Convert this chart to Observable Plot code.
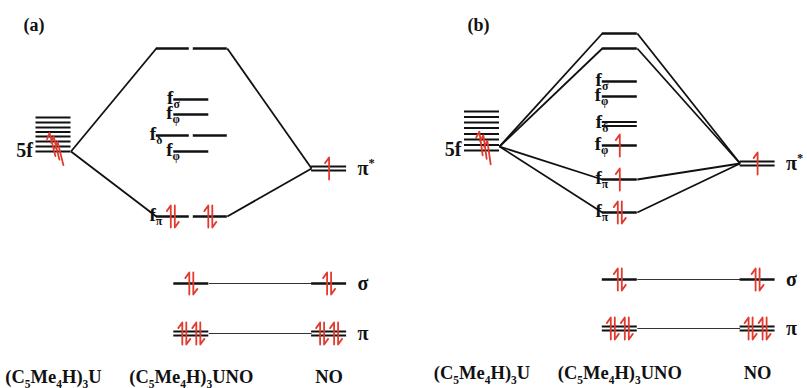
<!DOCTYPE html>
<html>
<head>
<meta charset="utf-8">
<script src="https://cdn.jsdelivr.net/npm/d3@7"></script>
<script src="https://cdn.jsdelivr.net/npm/@observablehq/plot@0.6"></script>
<style>
  html, body { margin: 0; padding: 0; background: #fff; }
  #chart svg { display: block; }
</style>
</head>
<body>
<div id="chart"></div>
<script>
// ---------------- DATA ----------------
const panels = ["(a)", "(b)"];
const columns = ["(C_5Me_4H)_3U", "(C_5Me_4H)_3UNO", "NO"];

// 5f manifold of (C5Me4H)3U (arbitrary energy units, higher = less stable)
const f5A = [22.3, 21.8, 21.3, 20.85, 20.4, 19.9, 19.4, 18.9];
const f5B = [22.9, 22.35, 21.8, 21.25, 20.65, 20.1, 19.55, 19.0];
const f5AnchorA = 18.9;   // energy where correlation lines leave the 5f manifold
const f5AnchorB = 19.4;
const f5Electrons = ["u", "u", "u"];

// (C5Me4H)3UNO levels: [label, energy, shape, electrons]
const unoA = [
  ["",    29.2, "pair",   ""],
  ["f_σ", 24.1, "single", ""],
  ["f_φ", 22.6, "single", ""],
  ["f_δ", 20.5, "pair",   ""],
  ["f_φ", 18.9, "single", ""],
  ["f_π", 12.4, "pair",   "ud|ud"],
  ["",     5.7, "single", "ud"],
  ["",     0.7, "double", "udud"]
];
const unoB = [
  ["",    30.7, "single", ""],
  ["",    29.2, "single", ""],
  ["f_σ", 25.9, "single", ""],
  ["f_φ", 24.4, "single", ""],
  ["f_δ", 21.65, "double", ""],
  ["f_φ", 19.5, "single", "u"],
  ["f_π", 16.1, "single", "u"],
  ["f_π", 12.8, "single", "ud"],
  ["",     6.1, "single", "ud"],
  ["",     1.2, "double", "udud"]
];

// NO levels: [label, energy, shape, electrons]
const noA = [
  ["π^*", 17.2, "double", "u"],
  ["σ",    5.7, "single", "ud"],
  ["π",    0.7, "double", "udud"]
];
const noB = [
  ["π^*", 17.7, "double", "u"],
  ["σ",    6.1, "single", "ud"],
  ["π",    1.2, "double", "udud"]
];

// correlation lines: [fromColumn, fromIndex, toColumn, toIndex, style]
const linksA = [
  ["U", 0, "UNO", 0, "main"], ["U", 0, "UNO", 5, "main"],
  ["UNO", 0, "NO", 0, "main"], ["UNO", 5, "NO", 0, "main"],
  ["UNO", 6, "NO", 1, "thin"], ["UNO", 7, "NO", 2, "thin"]
];
const linksB = [
  ["U", 0, "UNO", 0, "main"], ["U", 0, "UNO", 1, "main"],
  ["U", 0, "UNO", 6, "main"], ["U", 0, "UNO", 7, "main"],
  ["UNO", 0, "NO", 0, "main"], ["UNO", 1, "NO", 0, "main"],
  ["UNO", 6, "NO", 0, "main"], ["UNO", 7, "NO", 0, "main"],
  ["UNO", 8, "NO", 1, "thin"], ["UNO", 9, "NO", 2, "thin"]
];

// ---------------- LAYOUT ----------------
const PX = 137.8;            // pixels per column unit
const EPX = 10;              // pixels per energy unit
const u = p => p / PX;
const ev = p => p / EPX;
const panelOffset = [0, 3.1096];
const HALF = u(17.5);
const colLabelE = [-3.7, -3.3];
const panelLabelDx = [-30, -14.5];
const red = "#e23b2e";
const ink = "#111";

const stackSegs = [], levelSegs = [], doubleSegs = [];
const mainLinks = [], thinLinks = [];
const electrons = [], f5Elec = [];
const fLabels = [], rightLabels = [], f5Labels = [], colLabels = [], panelLabels = [];

function buildLevel(rec, c) {
  const [label, E, shape, el] = rec;
  let segs;
  if (shape === "pair") segs = [[c - u(35), c - u(2), 0], [c + u(2), c + u(36), 0]];
  else if (shape === "double") segs = [[c - HALF, c + HALF, ev(2.1)], [c - HALF, c + HALF, -ev(2.1)]];
  else segs = [[c - HALF, c + HALF, 0]];
  segs.forEach(([x1, x2, dE]) => (shape === "double" ? doubleSegs : levelSegs).push({x1, x2, E: E + dE}));
  const parts = shape === "pair" ? el.split("|") : [el];
  const centers = shape === "pair" ? segs.map(s => (s[0] + s[1]) / 2) : [c];
  parts.forEach((p, k) => {
    const xc = centers[k];
    if (p === "u") electrons.push({x: xc, y: E, rot: 0});
    else if (p === "ud") {
      electrons.push({x: xc - u(2), y: E, rot: 0});
      electrons.push({x: xc + u(2), y: E, rot: 180});
    } else if (p === "udud") {
      [-7, 7].forEach(o => {
        electrons.push({x: xc + u(o - 2), y: E, rot: 0});
        electrons.push({x: xc + u(o + 2), y: E, rot: 180});
      });
    }
  });
  return {label, E, left: Math.min(...segs.map(s => s[0])), right: Math.max(...segs.map(s => s[1]))};
}

panels.forEach((p, pi) => {
  const off = panelOffset[pi];
  const cx = [off, off + 1, off + 2];
  const f5 = pi ? f5B : f5A;
  const anchor = pi ? f5AnchorB : f5AnchorA;
  f5.forEach(E => stackSegs.push({x1: cx[0] - HALF, x2: cx[0] + HALF, E}));
  const low = Math.min(...f5);
  const stagX = [-1, 3, 7], stagY = [-7, -3.5, 2];
  f5Electrons.forEach((e, k) => f5Elec.push({x: cx[0] + u(stagX[k]), y: low - ev(stagY[k]), rot: pi ? -8 : -14}));
  f5Labels.push({x: cx[0] - HALF - u(3), y: low, text: "5f"});

  const uno = (pi ? unoB : unoA).map(r => buildLevel(r, cx[1]));
  const no = (pi ? noB : noA).map(r => buildLevel(r, cx[2]));
  uno.forEach(l => { if (l.label) fLabels.push({x: l.left + u(6), y: l.E, text: l.label}); });
  no.forEach(l => { if (l.label) rightLabels.push({x: l.right + u(11), y: l.E, text: l.label}); });

  (pi ? linksB : linksA).forEach(([fc, fi, tc, ti, style]) => {
    const from = fc === "U" ? {right: cx[0] + HALF, E: anchor} : uno[fi];
    const to = tc === "UNO" ? uno[ti] : no[ti];
    (style === "thin" ? thinLinks : mainLinks).push({x1: from.right, y1: from.E, x2: to.left, y2: to.E});
  });

  columns.forEach((c, k) => colLabels.push({x: cx[k], y: colLabelE[pi], text: c}));
  panelLabels.push({x: cx[0] + u(panelLabelDx[pi]), y: 31.5, text: p});
});

const harpoon = {
  draw(ctx, l, r) {
    ctx.moveTo(0, 0);
    ctx.lineTo(0, -l);
    ctx.lineTo(-r * 1.15, -l + r * 1.6);
  }
};

const font = "'Liberation Serif', 'Times New Roman', 'DejaVu Serif', serif";

const plot = Plot.plot({
  width: 807,
  height: 388,
  margin: 0,
  style: {background: "#fff"},
  x: {type: "linear", domain: [-53 / PX, 754 / PX], range: [0, 807], axis: null},
  y: {type: "linear", domain: [-4.5, 34], range: [385, 0], axis: null},
  marks: [
    Plot.link(thinLinks, {x1: "x1", y1: "y1", x2: "x2", y2: "y2", stroke: "#333", strokeWidth: 1.2}),
    Plot.link(mainLinks, {x1: "x1", y1: "y1", x2: "x2", y2: "y2", stroke: ink, strokeWidth: 1.8}),
    Plot.ruleY(stackSegs, {y: "E", x1: "x1", x2: "x2", stroke: ink, strokeWidth: 2.2}),
    Plot.ruleY(levelSegs, {y: "E", x1: "x1", x2: "x2", stroke: ink, strokeWidth: 2.6}),
    Plot.ruleY(doubleSegs, {y: "E", x1: "x1", x2: "x2", stroke: ink, strokeWidth: 2}),
    Plot.vector(electrons, {x: "x", y: "y", rotate: "rot", length: 22, anchor: "middle", shape: harpoon, stroke: red, strokeWidth: 1.8}),
    Plot.vector(f5Elec, {x: "x", y: "y", rotate: "rot", length: 24, anchor: "middle", shape: harpoon, stroke: red, strokeWidth: 1.8}),
    Plot.text(fLabels, {x: "x", y: "y", text: "text", textAnchor: "end", lineAnchor: "middle", dy: -2, fontSize: 19, fontWeight: "bold", fontFamily: font, fill: ink}),
    Plot.text(rightLabels, {x: "x", y: "y", text: "text", textAnchor: "start", lineAnchor: "middle", fontSize: 20, fontWeight: "bold", fontFamily: font, fill: ink}),
    Plot.text(f5Labels, {x: "x", y: "y", text: "text", textAnchor: "end", lineAnchor: "bottom", dy: 5, fontSize: 20, fontWeight: "bold", fontFamily: font, fill: ink}),
    Plot.text(colLabels, {x: "x", y: "y", text: "text", textAnchor: "middle", lineAnchor: "middle", fontSize: 18.5, fontWeight: "bold", fontFamily: font, fill: ink}),
    Plot.text(panelLabels, {x: "x", y: "y", text: "text", textAnchor: "start", lineAnchor: "middle", fontSize: 18, fontWeight: "bold", fontFamily: font, fill: ink})
  ]
});

document.getElementById("chart").append(plot);

// sub/superscript markup: "_x" subscript, "^x" superscript
(function richText(svg) {
  const NS = "http://www.w3.org/2000/svg";
  svg.querySelectorAll("text").forEach(t => {
    const s = t.textContent;
    if (!/[_^]/.test(s)) return;
    const fs = parseFloat(getComputedStyle(t).fontSize) || 16;
    while (t.firstChild) t.removeChild(t.firstChild);
    let cur = 0, buf = "";
    const add = (txt, shift, size) => {
      const ts = document.createElementNS(NS, "tspan");
      ts.textContent = txt;
      if (shift - cur !== 0) ts.setAttribute("dy", shift - cur);
      if (size) ts.setAttribute("font-size", size);
      cur = shift;
      t.appendChild(ts);
    };
    for (let i = 0; i < s.length; i++) {
      const ch = s[i];
      if ((ch === "_" || ch === "^") && i + 1 < s.length) {
        if (buf) { add(buf, 0); buf = ""; }
        add(s[i + 1], ch === "_" ? fs * 0.22 : -fs * 0.38, fs * 0.62);
        i++;
      } else buf += ch;
    }
    if (buf) add(buf, 0);
  });
})(plot);
</script>
</body>
</html>
